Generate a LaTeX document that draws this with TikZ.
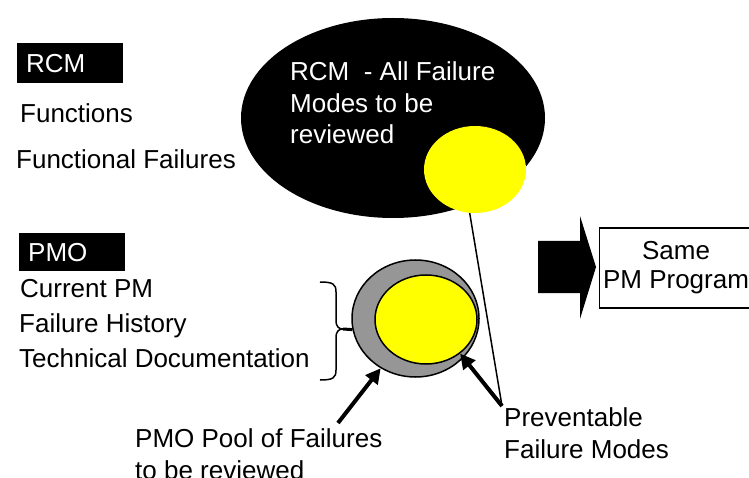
\documentclass[tikz,border=0pt]{standalone}
\usepackage{fontspec}
\setmainfont{Liberation Sans}
\usetikzlibrary{arrows.meta,shapes.geometric}
\definecolor{poolgray}{RGB}{150,150,150}
\definecolor{yel}{RGB}{255,255,0}
\begin{document}
\begin{tikzpicture}[x=1pt,y=-1pt,
  font=\fontsize{26}{31.5}\selectfont,
  txt/.style={inner sep=0pt, anchor=base west, align=left},
  labelbox/.style={fill=black, text=white, inner xsep=9pt, inner ysep=0pt,
    text width=88pt, align=left, anchor=north west},
  fat/.style={line width=4pt, -{Triangle[length=15pt,width=15pt]}},
  thin/.style={line width=1.5pt},
  oval/.style={ellipse, inner sep=0pt}
]
\useasboundingbox (0,0) rectangle (749,478);

% left labels
\node[labelbox, minimum height=40pt] (rcm) at (17,43) {RCM};
\node[txt] (fn) at (20,123) {Functions};
\node[txt] (ff) at (16,169) {Functional Failures};
\node[labelbox, minimum height=38pt] (pmo) at (19,233) {PMO};
\node[txt] (cpm) at (20,297) {Current PM};
\node[txt] (fh) at (19,332) {Failure History};
\node[txt] (td) at (19,367) {Technical Documentation};

% RCM big ellipse
\node[oval, fill=black, minimum width=304pt, minimum height=200pt] (rcmall) at (393,118) {};
\node[txt, text=white] (rcmtxt) at (290,144) {RCM\ \ - All Failure\\Modes to be\\reviewed};
\node[oval, fill=yel, minimum width=102pt, minimum height=87pt] (prev1) at (475,169.5) {};

% PMO pool
\node[oval, fill=poolgray, draw, thin, minimum width=127pt, minimum height=117pt] (pool) at (415.5,318.5) {};
\node[oval, fill=yel, draw, thin, minimum width=102pt, minimum height=89pt] (prev2) at (426,319.5) {};

% brace
\coordinate (brtip) at (343,329);
\draw[thin] (320,282) .. controls (333,282) and (336,284) .. (336,292)
  -- (336,320) .. controls (336,327) and (339,329) .. (brtip)
  .. controls (339,329) and (336,331) .. (336,338)
  -- (336,370) .. controls (336,378) and (333,380) .. (320,380);
\draw[line width=3pt] (brtip) -- (pool.190);

% bottom labels
\node[txt] (pooltxt) at (135,479) {PMO Pool of Failures\\to be reviewed};
\node[txt] (prevtxt) at (504,458) {Preventable\\Failure Modes};

% connectors
\coordinate (pv) at (502,406);
\coordinate (pa) at (338,423);
\draw[thin] (pv) -- (prev1.263);
\draw[fat] (pv) -- (prev2.-45);
\draw[fat] (pa) -- (pool.235);

% block arrow
\fill (538,241) -- (580,241) -- (580,216) -- (596,267) -- (580,319) -- (580,293) -- (538,293) -- cycle;

% result box
\node[draw, thin, minimum width=152pt, minimum height=80pt, align=center] (same) at (676,268) {Same\\[-2.5pt]PM Program};
\end{tikzpicture}
\end{document}
